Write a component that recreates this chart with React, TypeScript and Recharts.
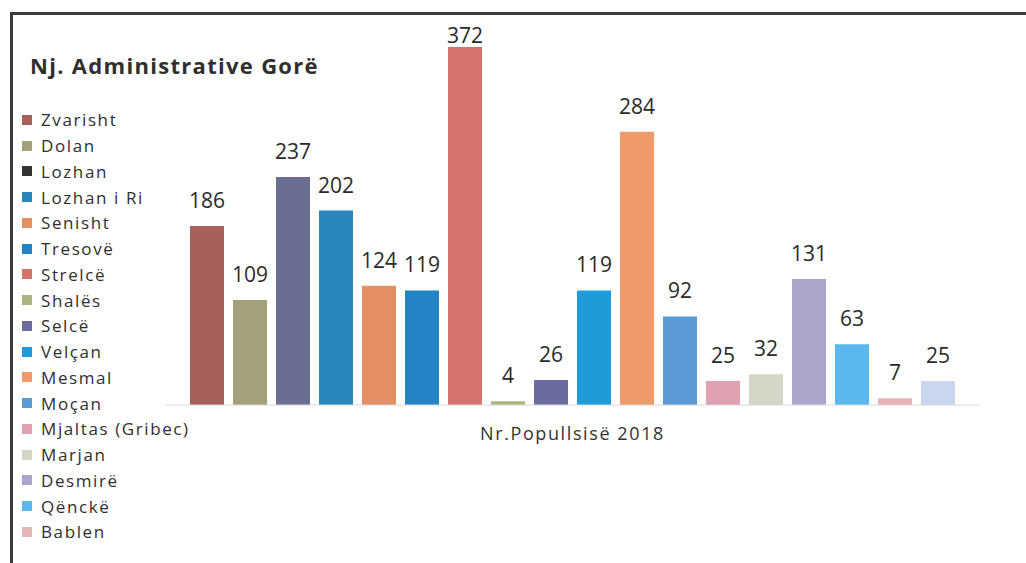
import React from "react"
import { Bar, BarChart, XAxis, YAxis, LabelList } from "recharts"

const category = "Nr.Popullsisë 2018"

const legendNames = [
  "Zvarisht", "Dolan", "Lozhan", "Lozhan i Ri", "Senisht", "Tresovë", "Strelcë",
  "Shalës", "Selcë", "Velçan", "Mesmal", "Moçan", "Mjaltas (Gribec)", "Marjan",
  "Desmirë", "Qënckë", "Bablen",
]

const populations = [186, 109, 237, 202, 124, 119, 372, 4, 26, 119, 284, 92, 25, 32, 131, 63, 7, 25]

const barColors = [
  "#a8605c", "#a3a07a", "#6a6e92", "#2a87bd", "#e68f64", "#2384c3", "#d4736b",
  "#a9b67e", "#6b6ba0", "#1e9bd8", "#ee9a6a", "#5b9bd5", "#dfa0b0", "#d6d6c6",
  "#aaa6cc", "#5ab8ee", "#e6b6b6", "#c8d6ee",
]

// legend swatch for Lozhan looks almost black in the scan
const legendColors = barColors.map((c, i) => (i === 2 ? "#333333" : c))

const row: Record<string, string | number> = { category }
populations.forEach((v, i) => { row["v" + i] = v })
const chartData = [row]

const font = "'Open Sans', Lato, sans-serif"

// value above the bar, kept inside the frame for the tallest one (as in the source)
const ValueLabel = (props: any) => {
  const { x, y, width, value } = props
  const ty = Math.max(y - 18, 43)
  return (
    <text x={x + width / 2} y={ty} textAnchor="middle" fill="#2a2a2a" fontSize={21} fontFamily={font}>
      {value}
    </text>
  )
}

export default function App() {
  return (
    <div style={{ position: "absolute", left: 0, top: 0, width: 1026, height: 563, overflow: "hidden", background: "#fff", fontFamily: font }}>
      {/* scan frame */}
      <div style={{ position: "absolute", left: 10, top: 12, width: 1016, height: 3, background: "#3a3a3a" }} />
      <div style={{ position: "absolute", left: 10, top: 12, width: 3, height: 551, background: "#3a3a3a" }} />

      <BarChart
        width={1026}
        height={563}
        data={chartData}
        margin={{ top: 20, right: 46, left: 165, bottom: 128 }}
        barSize={34}
        barGap={9}
      >
        <XAxis
          dataKey="category"
          axisLine={{ stroke: "#d9d9d9" }}
          tickLine={false}
          tick={{ fontSize: 18, fill: "#333", fontFamily: font, dy: 14, letterSpacing: 1.6 }}
        />
        <YAxis hide domain={[0, 400]} />
        {populations.map((_, i) => (
          <Bar key={i} dataKey={"v" + i} fill={barColors[i]} isAnimationActive={false}>
            <LabelList dataKey={"v" + i} content={ValueLabel} />
          </Bar>
        ))}
      </BarChart>

      <div style={{ position: "absolute", left: 30, top: 50, fontSize: 22, fontWeight: 700, color: "#2f2f2f", letterSpacing: 1.3 }}>
        Nj. Administrative Gorë
      </div>

      <div style={{ position: "absolute", left: 22, top: 107 }}>
        {legendNames.map((name, i) => (
          <div key={name} style={{ display: "flex", alignItems: "center", height: 25.75 }}>
            <span style={{ width: 10, height: 10, background: legendColors[i], marginRight: 9 }} />
            <span style={{ fontSize: 17, color: "#2f2f2f", whiteSpace: "nowrap", letterSpacing: 1.6 }}>{name}</span>
          </div>
        ))}
      </div>
    </div>
  )
}
